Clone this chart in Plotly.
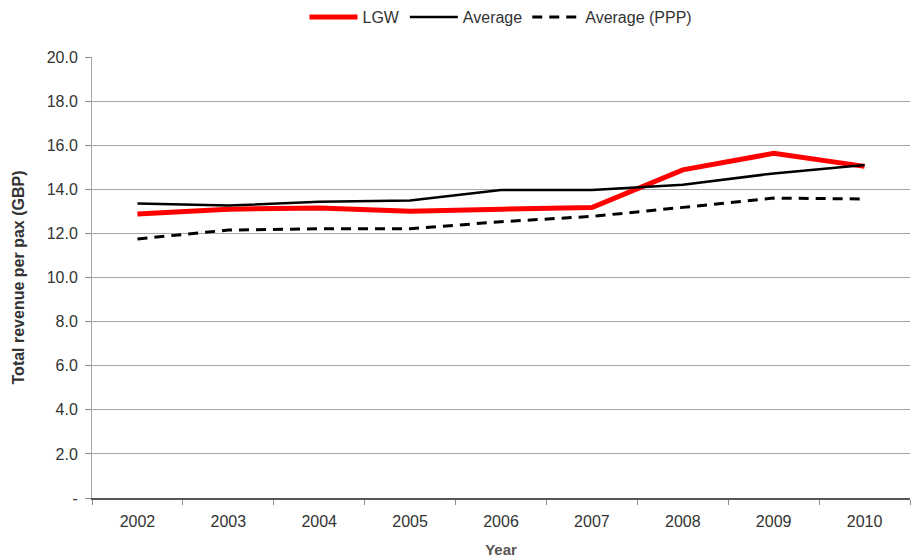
import plotly.graph_objects as go

years = ["2002", "2003", "2004", "2005", "2006", "2007", "2008", "2009", "2010"]
lgw = [12.88, 13.1, 13.15, 13.0, 13.1, 13.17, 14.88, 15.63, 15.04]
average = [13.36, 13.26, 13.44, 13.49, 13.97, 13.97, 14.21, 14.72, 15.1]
average_ppp = [11.75, 12.15, 12.21, 12.21, 12.53, 12.77, 13.18, 13.6, 13.56]
y_tickvals = [0, 2, 4, 6, 8, 10, 12, 14, 16, 18, 20]
y_ticktext = ["-", "2.0", "4.0", "6.0", "8.0", "10.0", "12.0", "14.0", "16.0", "18.0", "20.0"]

FONT = "Liberation Sans Narrow, Arial Narrow, Liberation Sans, Arial"

fig = go.Figure()
fig.add_trace(go.Scatter(x=years, y=lgw, mode="lines", name="LGW",
                         line=dict(color="#ff0000", width=5)))
fig.add_trace(go.Scatter(x=years, y=average, mode="lines", name="Average",
                         line=dict(color="#000000", width=2.5)))
fig.add_trace(go.Scatter(x=years, y=average_ppp, mode="lines", name="Average (PPP)",
                         line=dict(color="#000000", width=3, dash="10px,7px")))

fig.update_layout(
    width=912, height=558,
    margin=dict(l=92, r=2, t=57, b=60),
    paper_bgcolor="white", plot_bgcolor="white",
    font=dict(family=FONT, size=15, color="#333333"),
    legend=dict(orientation="h", x=0.5, xanchor="center", y=1.0, yanchor="top",
                yref="container", font=dict(family=FONT, size=16, color="#333333"),
                itemwidth=48),
    showlegend=True,
)

fig.update_xaxes(type="category", tickson="boundaries", ticks="outside", ticklen=5,
                 tickcolor="#888888", showgrid=False, showline=True, linecolor="#555555",
                 linewidth=1.5, range=[-0.5, 8.5], ticklabelstandoff=8,
                 title=dict(text="<b>Year</b>", font=dict(family=FONT, size=15, color="#555555"), standoff=16),
                 tickfont=dict(family=FONT, size=16, color="#333333"))
fig.update_yaxes(range=[0, 20], tickvals=y_tickvals, ticktext=y_ticktext,
                 ticks="outside", ticklen=6, tickcolor="#888888",
                 showgrid=True, gridcolor="#a6a6a6", gridwidth=1,
                 showline=True, linecolor="#a6a6a6", zeroline=False,
                 ticklabelstandoff=4,
                 title=dict(text="<b>Total revenue per pax (GBP)</b>",
                            font=dict(family=FONT, size=16, color="#333333"), standoff=18),
                 tickfont=dict(family=FONT, size=16, color="#333333"))

fig.write_html("out.html")
